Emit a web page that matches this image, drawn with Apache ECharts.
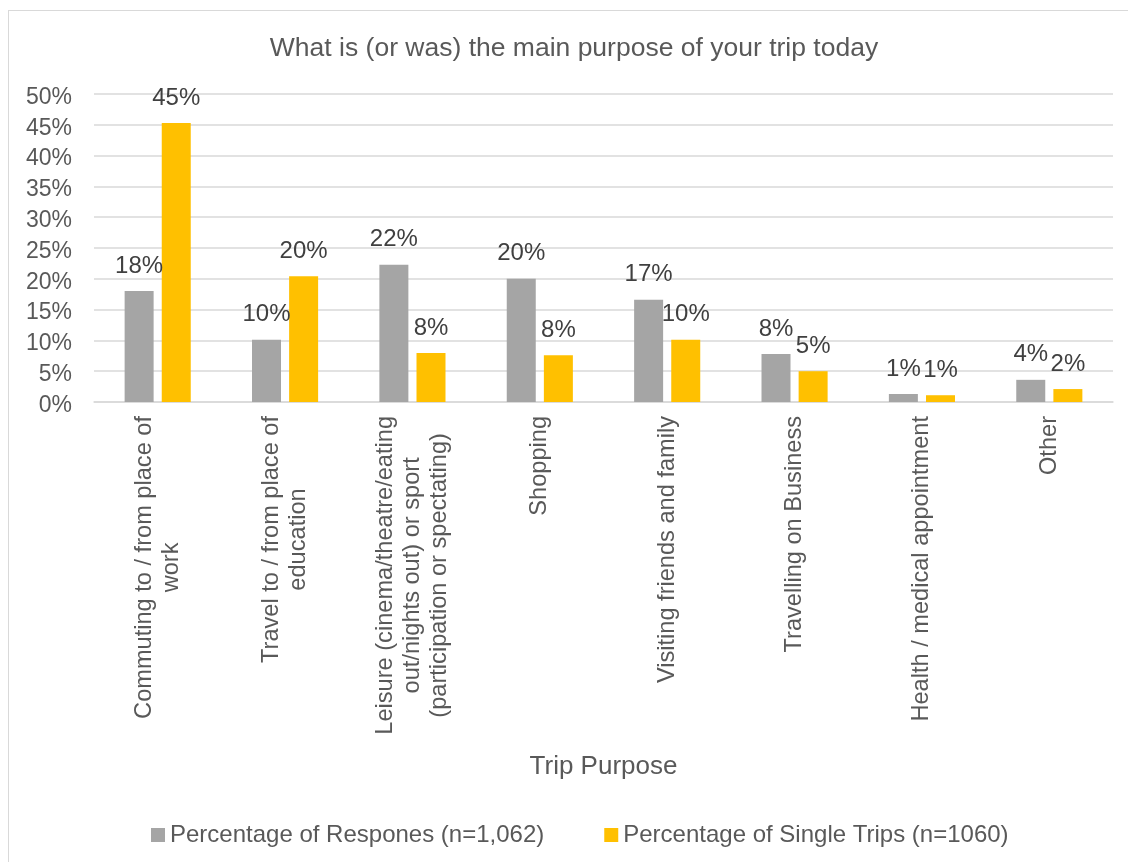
<!DOCTYPE html>
<html>
<head>
<meta charset="utf-8">
<title>Trip Purpose</title>
<script src="https://cdn.jsdelivr.net/npm/echarts@6/dist/echarts.min.js"></script>
<style>
  html, body { margin: 0; padding: 0; background: #fff; overflow: hidden; }
  #wrap { position: relative; width: 1128px; height: 862px; }
  #chart { width: 1128px; height: 862px; }
  /* 图表外框，只露出左边和上边 */
  #frame {
    position: absolute; left: 8px; top: 10px; width: 1300px; height: 1000px;
    border: 1px solid #d9d9d9; pointer-events: none;
  }
</style>
</head>
<body>
<div id="wrap">
  <div id="chart"></div>
  <div id="frame"></div>
</div>
<script>
// 数据
var categories = [
  'Commuting to / from place of\nwork',
  'Travel to / from place of\neducation',
  'Leisure (cinema/theatre/eating\nout/nights out) or sport\n(participation or spectating)',
  'Shopping',
  'Visiting friends and family',
  'Travelling on Business',
  'Health / medical appointment',
  'Other'
];
var responses = [18.0, 10.1, 22.3, 20.0, 16.6, 7.8, 1.3, 3.6];
var singleTrips = [45.3, 20.4, 7.95, 7.6, 10.1, 5.0, 1.1, 2.1];
var yTicks = [0, 5, 10, 15, 20, 25, 30, 35, 40, 45, 50];

var FONT = "'Liberation Sans', Arial, sans-serif";

var myChart = echarts.init(document.getElementById('chart'));

function pctLabel (p) {
  return Math.round(p.value) + '%';
}

var option = {
  animation: false,
  textStyle: { fontFamily: FONT },
  title: {
    text: 'What is (or was) the main purpose of your trip today',
    left: 569,
    textAlign: 'center',
    top: 30,
    textStyle: { fontFamily: FONT, fontSize: 26.5, fontWeight: 'normal', color: '#595959' }
  },
  legend: {
    left: 146,
    top: 818,
    itemWidth: 14,
    itemHeight: 14,
    itemGap: 60,
    icon: 'rect',
    textStyle: { fontFamily: FONT, fontSize: 24, color: '#595959' },
    data: ['Percentage of Respones (n=1,062)', 'Percentage of Single Trips (n=1060)']
  },
  grid: { left: 94, right: 15, top: 94, bottom: 460, containLabel: false },
  xAxis: {
    type: 'category',
    data: categories,
    name: 'Trip Purpose',
    nameLocation: 'middle',
    nameGap: 352,
    nameTextStyle: { fontFamily: FONT, fontSize: 26, color: '#595959' },
    axisLine: { lineStyle: { color: '#d9d9d9', width: 1.5 } },
    axisTick: { show: false },
    axisLabel: {
      rotate: 90,
      interval: 0,
      margin: 14,
      fontFamily: FONT,
      fontSize: 23.6,
      lineHeight: 27,
      color: '#595959',
      formatter: function (v) {
        return v.split('\n').map(function (s) { return '{c|' + s + '}'; }).join('\n');
      },
      rich: {
        c: { align: 'center', fontFamily: FONT, fontSize: 23.6, lineHeight: 27, color: '#595959' }
      }
    }
  },
  yAxis: {
    type: 'value',
    min: yTicks[0],
    max: yTicks[yTicks.length - 1],
    interval: 5,
    axisLine: { show: false },
    axisTick: { show: false },
    axisLabel: {
      margin: 22,
      fontFamily: FONT,
      fontSize: 23,
      color: '#595959',
      formatter: function (v) { return '{v|' + v + '%}'; },
      rich: {
        v: { fontFamily: FONT, fontSize: 23, color: '#595959', padding: [7, 0, 0, 0] }
      }
    },
    splitLine: { lineStyle: { color: '#d9d9d9', width: 1.5 } }
  },
  series: [
    {
      name: 'Percentage of Respones (n=1,062)',
      type: 'bar',
      data: responses,
      barWidth: 29,
      barGap: '28%',
      itemStyle: { color: '#a5a5a5' },
      label: {
        show: true, position: 'top', distance: 13,
        fontFamily: FONT, fontSize: 24, color: '#404040',
        formatter: pctLabel
      }
    },
    {
      name: 'Percentage of Single Trips (n=1060)',
      type: 'bar',
      data: singleTrips,
      barWidth: 29,
      barGap: '28%',
      itemStyle: { color: '#ffc000' },
      label: {
        show: true, position: 'top', distance: 13,
        fontFamily: FONT, fontSize: 24, color: '#404040',
        formatter: pctLabel
      }
    }
  ]
};

myChart.setOption(option);
</script>
</body>
</html>
